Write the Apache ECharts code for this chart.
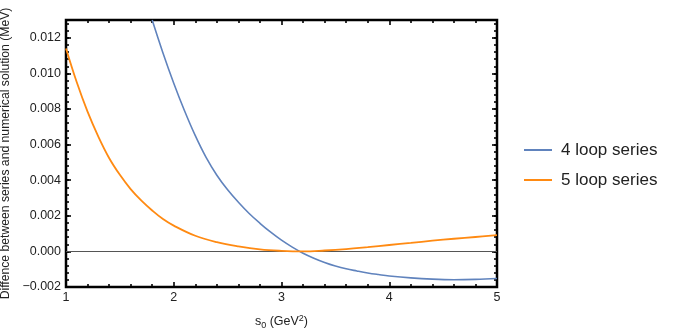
<!DOCTYPE html>
<html>
<head>
<meta charset="utf-8">
<script src="https://cdn.jsdelivr.net/npm/echarts@6/dist/echarts.min.js"></script>
<style>html,body{margin:0;padding:0;background:#fff}#c{width:676px;height:332px}</style>
</head>
<body>
<div id="c"></div>
<script>
// ---- data ----
const seriesNames = ['4 loop series', '5 loop series'];
const xTickLabels = ['1', '2', '3', '4', '5'];
// 4 loop series: s0 (GeV^2) and difference (MeV)
const loop4X = [1.8, 1.9, 2.0, 2.1, 2.2, 2.3, 2.4, 2.5, 2.6, 2.7, 2.8, 2.9, 3.0, 3.1, 3.2, 3.3, 3.4, 3.5, 3.6, 3.7, 3.8, 3.9, 4.0, 4.2, 4.4, 4.6, 4.8, 5.0];
const loop4Y = [0.0130, 0.01115, 0.00945, 0.0079, 0.0065, 0.00528, 0.00428, 0.00346, 0.00276, 0.00213, 0.00158, 0.00108, 0.00063, 0.00024, -0.0001, -0.00038, -0.00062, -0.00082, -0.00098, -0.0011, -0.00121, -0.0013, -0.00138, -0.00149, -0.00156, -0.00159, -0.00157, -0.00152];
// 5 loop series
const loop5X = [1.0, 1.1, 1.2, 1.3, 1.4, 1.5, 1.6, 1.7, 1.8, 1.9, 2.0, 2.2, 2.4, 2.6, 2.8, 3.0, 3.2, 3.4, 3.6, 3.8, 4.0, 4.2, 4.4, 4.6, 4.8, 5.0];
const loop5Y = [0.0114, 0.0095, 0.00785, 0.00645, 0.00525, 0.0043, 0.0035, 0.00285, 0.0023, 0.00182, 0.00145, 0.00088, 0.00052, 0.00028, 0.00011, 0.00003, 0.0, 0.00005, 0.00013, 0.00024, 0.00036, 0.00048, 0.0006, 0.00071, 0.00081, 0.00091];
const yTickValues = [-0.002, 0.000, 0.002, 0.004, 0.006, 0.008, 0.010, 0.012];

// ---- chart ----
const FONT = '"Liberation Sans", Arial, sans-serif';
const TXT = '#222';
const chart = echarts.init(document.getElementById('c'), null, {renderer: 'canvas'});

function pairs(xs, ys) { return xs.map((x, i) => [x, ys[i]]); }

const yMin = -0.002, yMax = 0.013;
function yLabel(v) {
  const k = Math.round(v / 0.002);
  if (Math.abs(v - k * 0.002) > 1e-7) return '';
  const val = k * 0.002;
  if (yTickValues.every(t => Math.abs(t - val) > 1e-7)) return '';
  return (val < -1e-9 ? '\u2212' : '') + Math.abs(val).toFixed(3);
}

const tickStyle = {color: '#000', width: 1.6};
function yAx(pos, interval, len, labels) {
  return {
    type: 'value', position: pos, offset: 0, min: yMin, max: yMax, interval: interval,
    axisLine: {show: false, onZero: false},
    axisTick: {show: true, inside: true, length: len, lineStyle: tickStyle},
    splitLine: {show: false},
    axisLabel: labels ? {show: true, margin: 5, formatter: yLabel, color: TXT, fontSize: 12.5, fontFamily: FONT, showMaxLabel: true} : {show: false},
    name: labels ? 'Diffence between series and numerical solution (MeV)' : '',
    nameLocation: 'middle', nameGap: 47, nameRotate: 90,
    nameTextStyle: {color: TXT, fontSize: 12.2, fontFamily: FONT}
  };
}
function xAx(pos, labels) {
  return {
    type: 'value', position: pos, min: 1, max: 5, interval: 1,
    axisLine: {show: false, onZero: false},
    axisTick: {show: true, inside: true, length: 5, lineStyle: tickStyle},
    minorTick: {show: true, splitNumber: 5, length: 3, lineStyle: tickStyle},
    splitLine: {show: false}, minorSplitLine: {show: false},
    axisLabel: labels ? {show: true, margin: 4, color: TXT, fontSize: 12.5, fontFamily: FONT,
      formatter: v => xTickLabels[Math.round(v) - 1] || ''} : {show: false},
    name: labels ? '{s|s}{sub|0}{s| (GeV}{sup|2}{s|)}' : '',
    nameLocation: 'middle', nameGap: 27,
    nameTextStyle: {
      color: TXT, fontFamily: FONT, fontSize: 12.5,
      rich: {
        s: {fontSize: 12.5, fontFamily: FONT, color: TXT, lineHeight: 16, verticalAlign: 'middle'},
        sub: {fontSize: 9, fontFamily: FONT, color: TXT, lineHeight: 16, verticalAlign: 'bottom'},
        sup: {fontSize: 9, fontFamily: FONT, color: TXT, lineHeight: 16, verticalAlign: 'top'}
      }
    }
  };
}

const option = {
  backgroundColor: '#fff',
  animation: false,
  grid: {left: 66, right: 179, top: 20, bottom: 45, show: true, borderColor: '#000', borderWidth: 2.5,
    backgroundColor: 'transparent', containLabel: false, outerBoundsMode: 'none'},
  legend: {
    orient: 'vertical', left: 524, top: 141, padding: 0, itemWidth: 28, itemHeight: 2, itemGap: 12,
    icon: 'rect',
    data: seriesNames,
    textStyle: {color: TXT, fontSize: 17, fontFamily: FONT, padding: [0, 0, 0, 4], lineHeight: 18}
  },
  xAxis: [xAx('bottom', true), xAx('top', false)],
  yAxis: [yAx('left', 0.0004, 3, true), yAx('left', 0.002, 5, false), yAx('right', 0.0004, 3, false), yAx('right', 0.002, 5, false)],
  series: [
    {
      name: seriesNames[0], type: 'line', xAxisIndex: 0, yAxisIndex: 0, data: pairs(loop4X, loop4Y),
      smooth: 0.4, showSymbol: false, symbol: 'none', clip: true,
      lineStyle: {color: '#6083BD', width: 1.6}, itemStyle: {color: '#6083BD'}, z: 3
    },
    {
      name: seriesNames[1], type: 'line', xAxisIndex: 0, yAxisIndex: 0, data: pairs(loop5X, loop5Y),
      smooth: 0.4, showSymbol: false, symbol: 'none', clip: true,
      lineStyle: {color: '#FF8A12', width: 1.8}, itemStyle: {color: '#FF8A12'}, z: 3,
      markLine: {
        silent: true, symbol: 'none', label: {show: false},
        lineStyle: {color: '#555', width: 1, type: 'solid'},
        data: [{yAxis: 0}], z: 2
      }
    }
  ]
};
chart.setOption(option);
</script>
</body>
</html>
